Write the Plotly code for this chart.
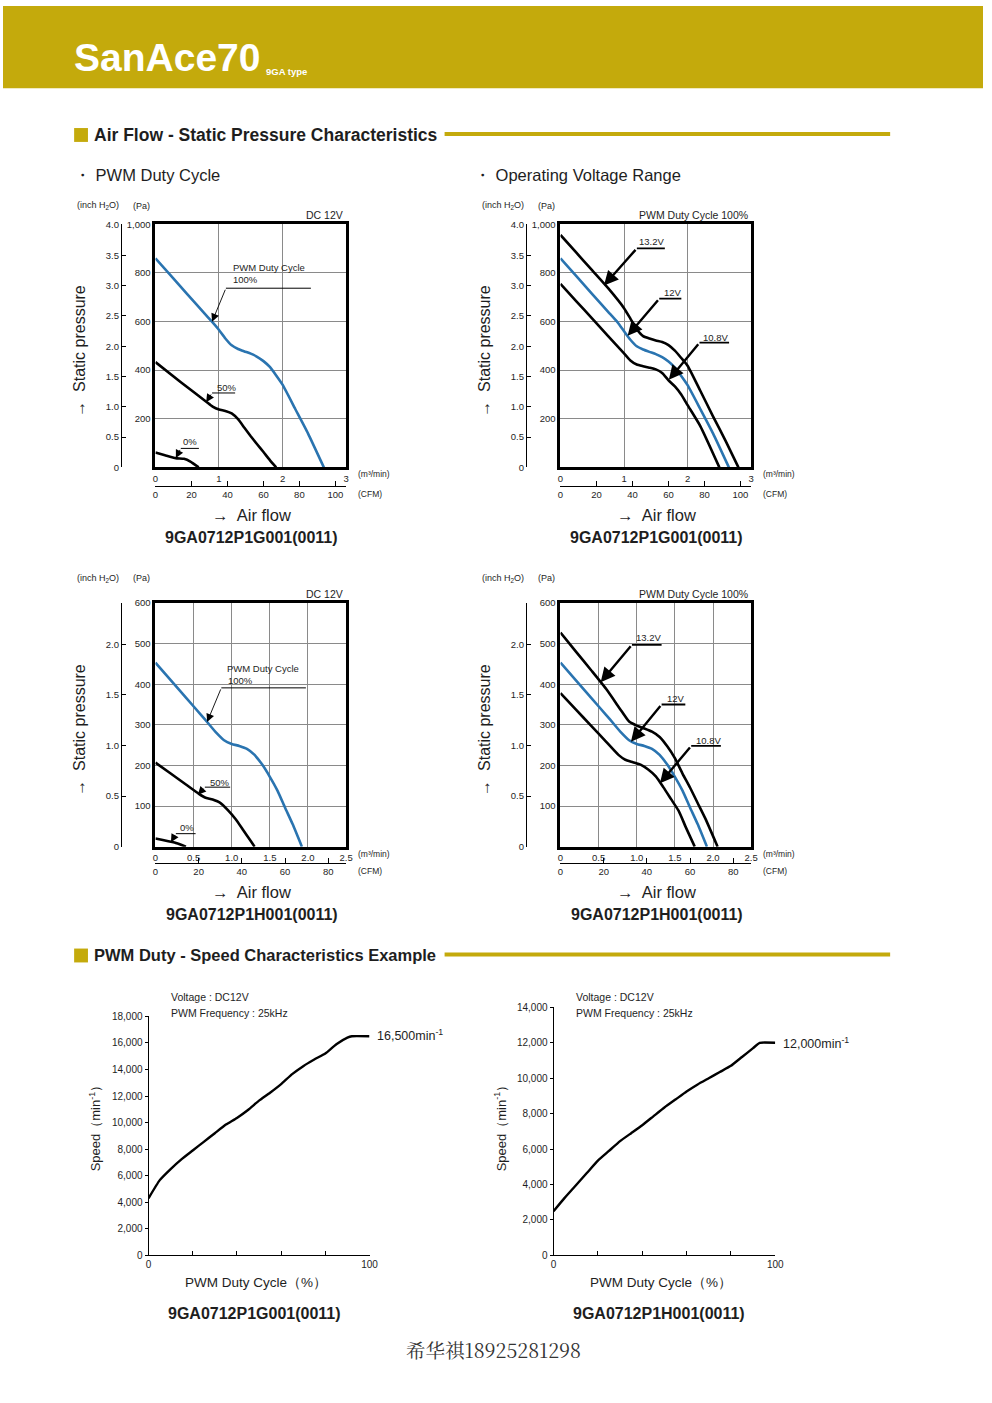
import plotly.graph_objects as go

W, H = 992, 1403
GOLD = "#C4AA0C"
BLUE = "#2a74b0"
INK = "#1e1e1e"
FONT = "Liberation Sans, Arial, Helvetica, sans-serif"

CFM_PER_M3 = 35.315
PA_PER_INH2O = 249.09

# ---------------- data : 9GA0712P1G001 (air flow m3/min , pressure Pa) ----------------
g_duty100_q = [0, 0.25, 0.5, 0.75, 0.9, 1.0, 1.1, 1.2, 1.3, 1.4, 1.5, 1.6, 1.7, 1.8, 1.9, 2.0, 2.2, 2.4, 2.65]
g_duty100_p = [860, 787, 713, 640, 596, 565, 530, 502, 487, 477, 468, 455, 437, 413, 378, 340, 240, 140, 0]
g_duty50_q = [0, 0.4, 0.8, 0.9, 1.0, 1.1, 1.2, 1.3, 1.4, 1.5, 1.6, 1.7, 1.8, 1.9]
g_duty50_p = [433, 350, 270, 250, 238, 232, 222, 198, 163, 128, 95, 63, 30, 0]
g_duty0_q = [0, 0.15, 0.32, 0.45, 0.55, 0.68]
g_duty0_p = [61, 50, 38, 35, 24, 0]

g_v132_q = [0, 0.25, 0.5, 0.75, 1.0, 1.1, 1.2, 1.3, 1.4, 1.5, 1.6, 1.7, 1.8, 1.9, 2.0, 2.2, 2.4, 2.6, 2.8]
g_v132_p = [956, 883, 810, 737, 655, 612, 568, 540, 530, 522, 516, 503, 480, 450, 418, 315, 210, 108, 0]
g_v12_q = [0, 0.25, 0.5, 0.75, 0.9, 1.0, 1.1, 1.2, 1.3, 1.4, 1.5, 1.6, 1.7, 1.8, 1.9, 2.0, 2.2, 2.4, 2.65]
g_v12_p = [860, 787, 713, 640, 596, 560, 525, 498, 485, 475, 466, 453, 435, 410, 376, 338, 240, 140, 0]
g_v108_q = [0, 0.25, 0.5, 0.75, 1.0, 1.1, 1.2, 1.3, 1.4, 1.5, 1.6, 1.7, 1.8, 1.9, 2.0, 2.2, 2.5]
g_v108_p = [755, 683, 612, 540, 469, 440, 423, 416, 410, 403, 388, 358, 333, 300, 256, 170, 0]

# ---------------- data : 9GA0712P1H001 ----------------
h_duty100_q = [0, 0.2, 0.4, 0.6, 0.7, 0.8, 0.9, 1.0, 1.1, 1.2, 1.3, 1.4, 1.5, 1.6, 1.7, 1.8, 1.92]
h_duty100_p = [453, 410, 367, 324, 302, 280, 262, 253, 248, 241, 226, 202, 172, 138, 96, 55, 0]
h_duty50_q = [0, 0.2, 0.4, 0.57, 0.65, 0.75, 0.85, 0.95, 1.05, 1.15, 1.25, 1.3]
h_duty50_p = [207, 180, 153, 130, 121, 116, 108, 90, 68, 41, 14, 0]
h_duty0_q = [0, 0.25, 0.4]
h_duty0_p = [20, 10, 0]

h_v132_q = [0, 0.2, 0.4, 0.6, 0.8, 0.9, 1.0, 1.1, 1.2, 1.3, 1.4, 1.5, 1.6, 1.7, 1.8, 1.9, 2.06]
h_v132_p = [527, 481, 435, 388, 334, 308, 298, 291, 283, 270, 247, 218, 180, 145, 107, 69, 0]
h_v12_q = [0, 0.2, 0.4, 0.6, 0.7, 0.8, 0.9, 1.0, 1.1, 1.2, 1.3, 1.4, 1.5, 1.6, 1.7, 1.8, 1.92]
h_v12_p = [453, 410, 367, 324, 302, 280, 262, 253, 248, 241, 226, 202, 172, 138, 96, 55, 0]
h_v108_q = [0, 0.2, 0.4, 0.6, 0.76, 0.85, 0.95, 1.05, 1.15, 1.25, 1.35, 1.45, 1.55, 1.65, 1.76]
h_v108_p = [378, 338, 298, 258, 226, 214, 208, 202, 190, 173, 146, 117, 88, 45, 0]

# ---------------- data : PWM duty - speed ----------------
g_speed_duty = [0, 5, 10, 15, 20, 25, 30, 35, 40, 45, 50, 55, 60, 65, 70, 75, 80, 85, 90, 92, 100]
g_speed_rpm = [4300, 5650, 6500, 7250, 7900, 8550, 9200, 9850, 10350, 10950, 11650, 12250, 12900,
               13650, 14250, 14750, 15200, 15900, 16400, 16500, 16500]
h_speed_duty = [0, 5, 10, 15, 20, 25, 30, 35, 40, 45, 50, 55, 60, 65, 70, 75, 80, 85, 90, 93, 100]
h_speed_rpm = [2500, 3250, 3950, 4650, 5350, 5900, 6450, 6900, 7350, 7850, 8350, 8800, 9250,
               9650, 10000, 10350, 10700, 11200, 11700, 12000, 12000]

# ---------------- tick labels ----------------
g_q_ticks = [0, 1, 2, 3]
g_q_text = ["0", "1", "2", "3"]
g_pa_ticks = [200, 400, 600, 800, 1000]
g_pa_text = ["200", "400", "600", "800", "1,000"]
g_in_ticks = [0, 0.5, 1.0, 1.5, 2.0, 2.5, 3.0, 3.5, 4.0]
g_in_text = ["0", "0.5", "1.0", "1.5", "2.0", "2.5", "3.0", "3.5", "4.0"]
g_cfm_ticks = [0, 20, 40, 60, 80, 100]

h_q_ticks = [0, 0.5, 1.0, 1.5, 2.0, 2.5]
h_q_text = ["0", "0.5", "1.0", "1.5", "2.0", "2.5"]
h_pa_ticks = [100, 200, 300, 400, 500, 600]
h_pa_text = ["100", "200", "300", "400", "500", "600"]
h_in_ticks = [0, 0.5, 1.0, 1.5, 2.0]
h_in_text = ["0", "0.5", "1.0", "1.5", "2.0"]
h_cfm_ticks = [0, 20, 40, 60, 80]

duty_ticks = [0, 20, 40, 60, 80, 100]
duty_text = ["0", "", "", "", "", "100"]
g_rpm_ticks = [0, 2000, 4000, 6000, 8000, 10000, 12000, 14000, 16000, 18000]
h_rpm_ticks = [0, 2000, 4000, 6000, 8000, 10000, 12000, 14000]

# ---------------------------------------------------------------------------------
fig = go.Figure()
layout = dict(width=W, height=H, margin=dict(l=0, r=0, t=0, b=0),
              paper_bgcolor="white", plot_bgcolor="rgba(0,0,0,0)", showlegend=False,
              font=dict(family=FONT, color=INK))
annotations = []
shapes = []


def PX(x):
    return x / W


def PY(y):
    return 1 - y / H


def axn(k, n):
    return f"{k}axis" + ("" if n == 1 else str(n))


def rf(k, n):
    return k + ("" if n == 1 else str(n))


def text(s, x, y, size, xanchor="left", bold=False, color=INK, angle=0, family=FONT):
    if bold:
        s = f"<b>{s}</b>"
    annotations.append(dict(text=s, x=PX(x), y=PY(y), xref="paper", yref="paper",
                            xanchor=xanchor, yanchor="middle", showarrow=False,
                            textangle=angle, font=dict(size=size, color=color, family=family)))


TICKFONT = dict(size=9.5, color=INK, family=FONT)


def pressure_chart(n, dx, qmax, pamax, qt, qtx, pt, ptx, it, itx, ct, series, notes, thick,
                   corner, model, top, bottom, cfm_y, axis_lbl_y, unit_y):
    l, r = 154.3 + dx, 347.3 + dx
    layout[axn("x", n)] = dict(domain=[PX(l), PX(r)], anchor=rf("y", n), range=[0, qmax],
                              tickvals=qt, ticktext=qtx, showgrid=True, gridcolor="#8a8a8a", gridwidth=1,
                              showline=True, linewidth=3, linecolor="black", mirror=True, ticks="",
                              zeroline=False, tickfont=TICKFONT, fixedrange=True)
    layout[axn("y", n)] = dict(domain=[PY(bottom), PY(top)], anchor=rf("x", n), range=[0, pamax],
                              tickvals=pt, ticktext=ptx, showgrid=True, gridcolor="#8a8a8a", gridwidth=1,
                              showline=True, linewidth=3, linecolor="black", mirror=True, ticks="",
                              zeroline=False, tickfont=TICKFONT, fixedrange=True)
    layout[axn("x", n + 1)] = dict(overlaying=rf("x", n), anchor="free", position=PY(cfm_y), side="bottom",
                                  range=[0, qmax * CFM_PER_M3], tickvals=ct, ticktext=[str(c) for c in ct],
                                  ticks="inside", ticklen=5, tickwidth=1, tickcolor="black",
                                  showline=True, linewidth=1, linecolor="black", showgrid=False,
                                  zeroline=False, tickfont=TICKFONT, fixedrange=True)
    layout[axn("y", n + 1)] = dict(overlaying=rf("y", n), anchor="free", position=PX(119.3 + dx), side="left",
                                  range=[0, pamax / PA_PER_INH2O], tickvals=it, ticktext=itx,
                                  ticks="inside", ticklen=4, tickwidth=1, tickcolor="black",
                                  showline=True, linewidth=1, linecolor="black", showgrid=False,
                                  zeroline=False, tickfont=TICKFONT, fixedrange=True)
    fig.add_trace(go.Scatter(x=[None], y=[None], xaxis=rf("x", n + 1), yaxis=rf("y", n), hoverinfo="skip"))
    fig.add_trace(go.Scatter(x=[None], y=[None], xaxis=rf("x", n), yaxis=rf("y", n + 1), hoverinfo="skip"))
    for q, p, col in series:
        fig.add_trace(go.Scatter(x=q, y=p, mode="lines", xaxis=rf("x", n), yaxis=rf("y", n),
                                 line=dict(color=col, width=2.6, shape="spline", smoothing=0.5),
                                 hoverinfo="skip"))
    aw = 2.4 if thick else 0.9
    for nt in notes:
        for s, tx, ty in nt["labels"]:
            annotations.append(dict(text=s, x=tx, y=ty, xref=rf("x", n), yref=rf("y", n),
                                    xanchor="left", yanchor="middle", showarrow=False,
                                    font=dict(size=9.5, color=INK, family=FONT)))
        x0, x1, ly = nt["line"]
        shapes.append(dict(type="line", xref=rf("x", n), yref=rf("y", n), x0=x0, x1=x1, y0=ly, y1=ly,
                           line=dict(color="black", width=1.8 if thick else 1)))
        tx, ty = nt["tip"]
        annotations.append(dict(text="", x=tx, y=ty, ax=x0, ay=ly, xref=rf("x", n), yref=rf("y", n),
                                axref=rf("x", n), ayref=rf("y", n), showarrow=True,
                                arrowhead=2, arrowsize=1.2 if thick else 1.8, arrowwidth=aw,
                                arrowcolor="black", standoff=0, startstandoff=0))
    # texts around chart
    text("(inch H<sub>2</sub>O)", 73 + dx, unit_y, 9)
    text("(Pa)", 130 + dx, unit_y, 9)
    text(corner, 346 + dx, top - 9, 10.5, xanchor="right")
    text("(m³/min)", 357 + dx, axis_lbl_y, 8.5)
    text("(CFM)", 357 + dx, cfm_y + 8.5, 8.5)
    text("→  Static pressure", 78 + dx, (top + bottom) / 2 + 5, 16, xanchor="center", angle=-90)
    text("→  Air flow", 252 + dx, cfm_y + 30, 16.5, xanchor="center")
    text(model, 252 + dx, cfm_y + 52, 16, xanchor="center", bold=True)


K = "black"
pressure_chart(1, 0, 3, 1000, g_q_ticks, g_q_text, g_pa_ticks, g_pa_text, g_in_ticks, g_in_text, g_cfm_ticks,
               [(g_duty100_q, g_duty100_p, BLUE), (g_duty50_q, g_duty50_p, K), (g_duty0_q, g_duty0_p, K)],
               [dict(labels=[("PWM Duty Cycle", 1.187, 823), ("100%", 1.187, 771)], line=(1.109, 2.446, 737), tip=(0.891, 599)),
                dict(labels=[("50%", 0.933, 329)], line=(0.891, 1.254, 306), tip=(0.798, 268)),
                dict(labels=[("0%", 0.409, 105)], line=(0.399, 0.684, 78), tip=(0.321, 38))],
               False, "DC 12V", "9GA0712P1G001(0011)", 220, 465, 483.3, 471.5, 201.5)

pressure_chart(5, 410, 3, 1000, g_q_ticks, g_q_text, g_pa_ticks, g_pa_text, g_in_ticks, g_in_text, g_cfm_ticks,
               [(g_v132_q, g_v132_p, K), (g_v12_q, g_v12_p, BLUE), (g_v108_q, g_v108_p, K)],
               [dict(labels=[("13.2V", 1.202, 928)], line=(1.202, 1.642, 901), tip=(0.684, 748)),
                dict(labels=[("12V", 1.591, 721)], line=(1.554, 1.902, 694), tip=(1.057, 541)),
                dict(labels=[("10.8V", 2.212, 535)], line=(2.187, 2.653, 513), tip=(1.705, 360))],
               True, "PWM Duty Cycle 100%", "9GA0712P1G001(0011)", 220, 465, 483.3, 471.5, 201.5)

pressure_chart(9, 0, 2.5, 600, h_q_ticks, h_q_text, h_pa_ticks, h_pa_text, h_in_ticks, h_in_text, h_cfm_ticks,
               [(h_duty100_q, h_duty100_p, BLUE), (h_duty50_q, h_duty50_p, K), (h_duty0_q, h_duty0_p, K)],
               [dict(labels=[("PWM Duty Cycle", 0.915, 439), ("100%", 0.924, 409)], line=(0.864, 1.973, 391), tip=(0.678, 307)),
                dict(labels=[("50%", 0.691, 159)], line=(0.648, 0.98, 146.5), tip=(0.557, 128)),
                dict(labels=[("0%", 0.298, 48)], line=(0.268, 0.527, 32), tip=(0.203, 11))],
               False, "DC 12V", "9GA0712P1H001(0011)", 601.7, 847.3, 863.3, 855, 576.7)

pressure_chart(13, 410, 2.5, 600, h_q_ticks, h_q_text, h_pa_ticks, h_pa_text, h_in_ticks, h_in_text, h_cfm_ticks,
               [(h_v132_q, h_v132_p, K), (h_v12_q, h_v12_p, BLUE), (h_v108_q, h_v108_p, K)],
               [dict(labels=[("13.2V", 0.959, 515)], line=(0.937, 1.326, 497), tip=(0.527, 405)),
                dict(labels=[("12V", 1.369, 366)], line=(1.326, 1.637, 350), tip=(0.924, 258)),
                dict(labels=[("10.8V", 1.749, 262)], line=(1.714, 2.103, 248), tip=(1.304, 156))],
               True, "PWM Duty Cycle 100%", "9GA0712P1H001(0011)", 601.7, 847.3, 863.3, 855, 576.7)


def speed_chart(n, l, r, top, bottom, ymax, yticks, duty, rpm, end_label, end_y, model):
    SF = dict(size=10, color=INK, family=FONT)
    layout[axn("x", n)] = dict(domain=[PX(l), PX(r)], anchor=rf("y", n), range=[0, 100],
                              tickvals=duty_ticks, ticktext=duty_text, ticks="inside", ticklen=4,
                              tickcolor="black", showline=True, linewidth=1, linecolor="black",
                              showgrid=False, zeroline=False, tickfont=SF, fixedrange=True)
    layout[axn("y", n)] = dict(domain=[PY(bottom), PY(top)], anchor=rf("x", n), range=[0, ymax],
                              tickvals=yticks, tickformat=",d", ticks="outside", ticklen=3,
                              tickcolor="black", showline=True, linewidth=1, linecolor="black",
                              showgrid=False, zeroline=False, tickfont=SF, fixedrange=True)
    fig.add_trace(go.Scatter(x=duty, y=rpm, mode="lines", xaxis=rf("x", n), yaxis=rf("y", n),
                             line=dict(color="black", width=2.4, shape="spline", smoothing=0.4),
                             hoverinfo="skip"))
    text("Voltage : DC12V", l + 21, 999, 10.5)
    text("PWM Frequency : 25kHz", l + 21, 1015, 10.5)
    text(end_label, r + 6, end_y, 12.5)
    text("Speed（min<sup>-1</sup>）", l - 54, 1128, 13, xanchor="center", angle=-90)
    text("PWM Duty Cycle（%）", (l + r) / 2 - 3, 1287, 13.5, xanchor="center")
    text(model, (l + r) / 2 - 5, 1318, 16, xanchor="center", bold=True)


speed_chart(17, 147.3, 371, 1018.3, 1259.3, 18000, g_rpm_ticks, g_speed_duty, g_speed_rpm,
            "16,500min<sup>-1</sup>", 1037, "9GA0712P1G001(0011)")
speed_chart(18, 557.3, 781.7, 1009.3, 1259.3, 14000, h_rpm_ticks, h_speed_duty, h_speed_rpm,
            "12,000min<sup>-1</sup>", 1045, "9GA0712P1H001(0011)")

# ---------------- page decoration ----------------
shapes.append(dict(type="rect", xref="paper", yref="paper", x0=0, x1=1, y0=PY(83), y1=1,
                   fillcolor=GOLD, line=dict(width=0), layer="below"))
text("SanAce70", 70, 52, 39, bold=True, color="white",
     family="Liberation Sans Narrow, Arial Narrow, Liberation Sans, sans-serif")
text("9GA type", 264, 66, 9.5, bold=True, color="white")

for yy, title, tsize in [(130, "Air Flow - Static Pressure Characteristics", 17.5),
                         (957, "PWM Duty - Speed Characteristics Example", 16.5)]:
    shapes.append(dict(type="rect", xref="paper", yref="paper", x0=PX(72), x1=PX(86), y0=PY(yy + 7), y1=PY(yy - 7),
                       fillcolor=GOLD, line=dict(width=0)))
    shapes.append(dict(type="rect", xref="paper", yref="paper", x0=PX(447), x1=PX(898), y0=PY(yy + 1), y1=PY(yy - 3),
                       fillcolor=GOLD, line=dict(width=0)))
    text(title, 90, yy, tsize, bold=True)

text("・ PWM Duty Cycle", 70, 170, 16.5)
text("・ Operating Voltage Range", 475, 170, 16.5)
text("希华祺18925281298", 496, 1355, 19.5, xanchor="center", color="#333",
     family="Noto Serif CJK SC, Noto Sans CJK SC, sans-serif")

layout["annotations"] = annotations
layout["shapes"] = shapes
fig.update_layout(**layout)

PAGE_FIX = (
    "var d=document.getElementById('{plot_id}');"
    "document.documentElement.style.margin='0';document.documentElement.style.padding='0';"
    "document.documentElement.style.overflow='hidden';"
    "document.body.style.margin='0';document.body.style.padding='0';document.body.style.overflow='hidden';"
    "if(d){d.style.position='absolute';d.style.left='0px';d.style.top='0px';"
    "if(d.parentElement){d.parentElement.style.margin='0';d.parentElement.style.padding='0';"
    "d.parentElement.style.lineHeight='0';d.parentElement.style.fontSize='0';}}"
)
fig.write_html("out.html", config={"displayModeBar": False}, post_script=PAGE_FIX)
